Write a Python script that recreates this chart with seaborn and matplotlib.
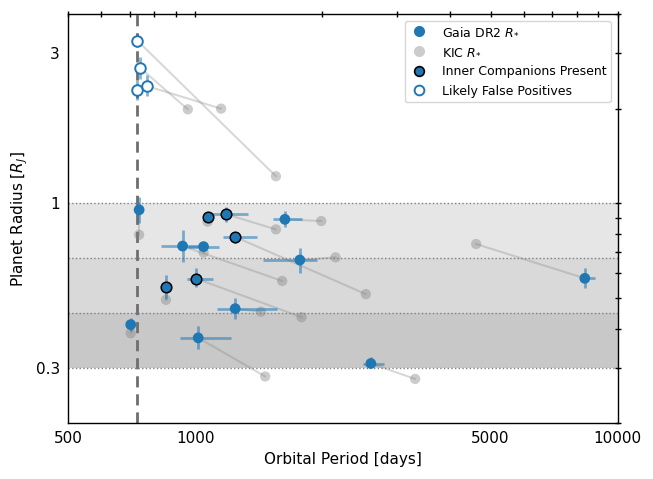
import matplotlib
matplotlib.use("Agg")
import matplotlib.pyplot as plt
from matplotlib.lines import Line2D
from matplotlib.ticker import FixedLocator, FixedFormatter, LogLocator, NullFormatter
import seaborn as sns
import pandas as pd
import numpy as np

# ---- data ----
gaia_P = [730, 740, 730, 768, 737, 1070, 1182, 1631, 934, 1047, 1246, 1769, 853, 1006, 1244, 704, 1017, 2605, 8358]
gaia_R = [3.29, 2.70, 2.30, 2.36, 0.954, 0.903, 0.925, 0.890, 0.732, 0.729, 0.782, 0.661, 0.542, 0.577, 0.463, 0.412, 0.374, 0.310, 0.578]
kic_P = [1553, 961, 730, 1152, 737, 1070, 1553, 1988, 1607, 1047, 2535, 2149, 853, 1786, 1431, 704, 1465, 3316, 4623]
kic_R = [1.22, 1.99, 2.30, 2.00, 0.795, 0.875, 0.827, 0.879, 0.567, 0.698, 0.515, 0.674, 0.494, 0.435, 0.453, 0.387, 0.282, 0.277, 0.743]
P_lo = [730, 740, 730, 768, 737, 1050, 1094, 1525, 830, 961, 1165, 1449, 853, 958, 1124, 704, 920, 2498, 8135]
P_hi = [730, 740, 730, 768, 737, 1090, 1331, 1786, 1050, 1137, 1398, 1938, 853, 1100, 1559, 704, 1213, 2797, 8825]
R_lo = [3.15, 2.49, 2.13, 2.19, 0.866, 0.88, 0.875, 0.843, 0.653, 0.71, 0.75, 0.603, 0.496, 0.542, 0.430, 0.392, 0.345, 0.303, 0.538]
R_hi = [3.45, 2.91, 2.46, 2.55, 1.047, 0.93, 0.976, 0.945, 0.823, 0.75, 0.813, 0.720, 0.593, 0.622, 0.500, 0.432, 0.407, 0.324, 0.622]
status = ['fp', 'fp', 'fp', 'fp', 'gaia', 'ic', 'ic', 'gaia', 'gaia', 'gaia', 'ic', 'gaia',
          'ic', 'ic', 'gaia', 'gaia', 'gaia', 'gaia', 'gaia']

period_floor = 730
band_edges = [1.0, 0.3 ** (1 / 3), 0.3 ** (2 / 3), 0.3]
band_colors = ['#e6e6e6', '#d9d9d9', '#c8c8c8']

x_major = [500, 1000, 5000, 10000]
x_labels = ['500', '1000', '5000', '10000']
y_major = [0.3, 1, 3]
y_labels = ['0.3', '1', '3']

df = pd.DataFrame(dict(gP=gaia_P, gR=gaia_R, kP=kic_P, kR=kic_R,
                       Plo=P_lo, Phi=P_hi, Rlo=R_lo, Rhi=R_hi, status=status))

sns.set_style("white", {"text.color": "black", "axes.labelcolor": "black",
                        "xtick.color": "black", "ytick.color": "black",
                        "axes.edgecolor": "black"})
plt.rcParams['font.family'] = ['DejaVu Sans']

fig = plt.figure(figsize=(6.53, 4.79), dpi=100)
ax = fig.add_axes([0.104, 0.116, 0.842, 0.855])
ax.set_xscale('log')
ax.set_yscale('log')

blue = '#1f77b4'

# bands
for i in range(3):
    ax.axhspan(band_edges[i + 1], band_edges[i], color=band_colors[i], zorder=0, lw=0)
for e in band_edges:
    ax.axhline(e, color='#808080', ls=':', lw=1, zorder=0.5)

ax.axvline(period_floor, color='#6e6e6e', ls='--', lw=2, dashes=(4, 2.5), zorder=1)

# connecting lines
for _, r in df.iterrows():
    ax.plot([r.gP, r.kP], [r.gR, r.kR], color='gray', alpha=0.3, lw=1.5, zorder=1.5)

# KIC points
sns.scatterplot(data=df, x='kP', y='kR', color='gray', alpha=0.4, s=55,
                edgecolor='none', ax=ax, zorder=2, legend=False)

# error bars
xerr = np.array([df.gP - df.Plo, df.Phi - df.gP])
yerr = np.array([df.gR - df.Rlo, df.Rhi - df.gR])
ax.errorbar(df.gP, df.gR, xerr=xerr, yerr=yerr, fmt='none', ecolor=blue,
            alpha=0.55, elinewidth=2, capsize=0, zorder=3)

# Gaia points
sub = df[df.status == 'gaia']
sns.scatterplot(data=sub, x='gP', y='gR', color=blue, s=60, edgecolor='none',
                ax=ax, zorder=4, legend=False)
sub = df[df.status == 'ic']
sns.scatterplot(data=sub, x='gP', y='gR', color=blue, s=58, edgecolor='black',
                linewidth=1.1, ax=ax, zorder=4, legend=False)
sub = df[df.status == 'fp']
sns.scatterplot(data=sub, x='gP', y='gR', color='white', s=58, edgecolor=blue,
                linewidth=1.4, ax=ax, zorder=4, legend=False)

ax.set_xlim(500, 10000)
ax.set_ylim(0.2, 4)

ax.xaxis.set_major_locator(FixedLocator(x_major))
ax.xaxis.set_major_formatter(FixedFormatter(x_labels))
ax.xaxis.set_minor_locator(LogLocator(base=10, subs=np.arange(2, 10)))
ax.xaxis.set_minor_formatter(NullFormatter())
ax.yaxis.set_major_locator(FixedLocator(y_major))
ax.yaxis.set_major_formatter(FixedFormatter(y_labels))
ax.yaxis.set_minor_locator(LogLocator(base=10, subs=np.arange(2, 10)))
ax.yaxis.set_minor_formatter(NullFormatter())

ax.tick_params(which='both', direction='inout', top=True, right=True,
               length=4.5, width=1, color='black', labelcolor='black', labelsize=11)
for s in ax.spines.values():
    s.set_color('black')
    s.set_linewidth(1)

ax.set_xlabel('Orbital Period [days]', fontsize=11, color='black')
ax.set_ylabel(r'Planet Radius [$R_J$]', fontsize=11, color='black')

handles = [
    Line2D([], [], ls='none', marker='o', color=blue, markersize=8, markeredgecolor='none'),
    Line2D([], [], ls='none', marker='o', color='#cccccc', markersize=8, markeredgecolor='none'),
    Line2D([], [], ls='none', marker='o', color=blue, markersize=7, markeredgecolor='black', markeredgewidth=1.2),
    Line2D([], [], ls='none', marker='o', markerfacecolor='white', markersize=7, markeredgecolor=blue, markeredgewidth=1.4),
]
labels = [r'Gaia DR2 $R_{*}$', r'KIC $R_{*}$', 'Inner Companions Present', 'Likely False Positives']
leg = ax.legend(handles, labels, loc='upper right', fontsize=9, frameon=True,
                handletextpad=1.0, borderpad=0.35, labelspacing=0.55,
                handlelength=1.6, borderaxespad=0,
                bbox_to_anchor=(0.987, 0.983))
for t in leg.get_texts():
    t.set_color('black')

fig.savefig('out.png', dpi=100)
